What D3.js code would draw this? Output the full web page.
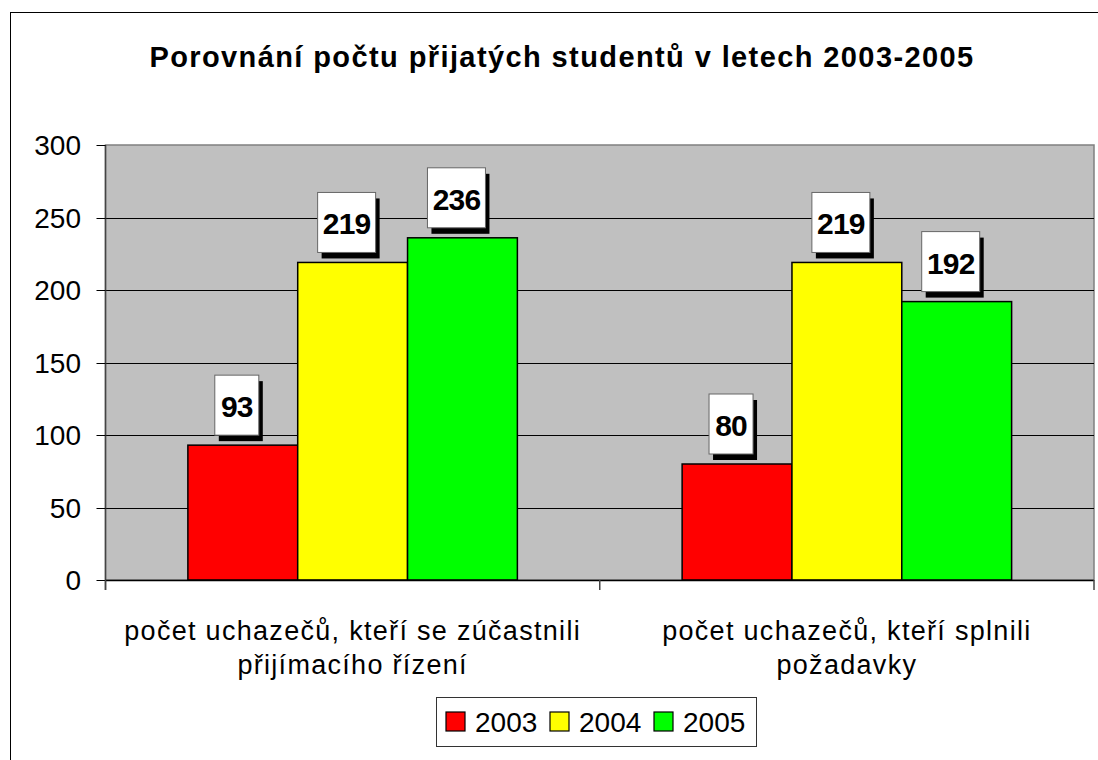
<!DOCTYPE html>
<html>
<head>
<meta charset="utf-8">
<script src="https://cdn.jsdelivr.net/npm/d3@7"></script>
<style>
  body { margin: 0; background: #fff; }
  text { font-family: Arial, "Liberation Sans", sans-serif; }
</style>
</head>
<body>
<div id="root"></div>
<script>
const categories = [
  ["počet uchazečů, kteří se zúčastnili", "přijímacího řízení"],
  ["počet uchazečů, kteří splnili", "požadavky"]
];
const years = ["2003", "2004", "2005"];
const values2003 = [93, 80];
const values2004 = [219, 219];
const values2005 = [236, 192];
const yTicks = [0, 50, 100, 150, 200, 250, 300];
const colors = ["#ff0000", "#ffff00", "#00ff00"];

const series = [values2003, values2004, values2005];

const W = 1098, H = 760;
const plot = {left: 105.5, right: 1094, top: 145, bottom: 580};

const svg = d3.select("#root").append("svg")
    .attr("width", W).attr("height", H);

// outer chart border
svg.append("rect")
    .attr("x", 10.5).attr("y", 12.5)
    .attr("width", W + 20).attr("height", H + 20)
    .attr("fill", "white").attr("stroke", "#000").attr("stroke-width", 1);

const x0 = d3.scaleBand()
    .domain(d3.range(categories.length))
    .range([plot.left, plot.right]);

const x1 = d3.scaleBand()
    .domain(d3.range(years.length))
    .range([0, x0.bandwidth()])
    .paddingOuter(0.75);

const y = d3.scaleLinear().domain([0, 300]).range([plot.bottom, plot.top]);

// plot background
svg.append("rect")
    .attr("x", plot.left).attr("y", plot.top)
    .attr("width", plot.right - plot.left).attr("height", plot.bottom - plot.top)
    .attr("fill", "#c0c0c0").attr("stroke", "#808080").attr("stroke-width", 1.5);

// gridlines
svg.selectAll("line.grid")
    .data(yTicks.filter(d => d > 0 && d < 300))
    .join("line").attr("class", "grid")
    .attr("x1", plot.left).attr("x2", plot.right)
    .attr("y1", d => Math.round(y(d)) + 0.5).attr("y2", d => Math.round(y(d)) + 0.5)
    .attr("stroke", "#000").attr("stroke-width", 1);

// bars
const groups = svg.selectAll("g.cat")
    .data(categories.map((c, i) => i))
    .join("g").attr("class", "cat")
    .attr("transform", i => `translate(${x0(i)},0)`);

groups.selectAll("rect.bar")
    .data(i => series.map((s, k) => ({k, v: s[i]})))
    .join("rect").attr("class", "bar")
    .attr("x", d => x1(d.k))
    .attr("y", d => y(d.v))
    .attr("width", x1.bandwidth())
    .attr("height", d => y(0) - y(d.v))
    .attr("fill", d => colors[d.k])
    .attr("stroke", "#000").attr("stroke-width", 1.5);

// value labels with shadowed boxes
const lab = groups.selectAll("g.lab")
    .data(i => series.map((s, k) => ({k, v: s[i]})))
    .join("g").attr("class", "lab")
    .attr("transform", d => `translate(${x1(d.k) + x1.bandwidth() / 2},${y(d.v) - 8})`);

lab.append("rect")
    .attr("x", d => d.v >= 100 ? -29 - 2 : -22 - 2).attr("y", -56)
    .attr("width", d => d.v >= 100 ? 58 : 44).attr("height", 60)
    .attr("fill", "#000");
lab.append("rect")
    .attr("x", d => d.v >= 100 ? -29 - 6 : -22 - 6).attr("y", -62)
    .attr("width", d => d.v >= 100 ? 58 : 44).attr("height", 60)
    .attr("fill", "#fff").attr("stroke", "#666").attr("stroke-width", 1);
lab.append("text")
    .attr("x", -6).attr("y", -20)
    .attr("text-anchor", "middle")
    .attr("font-size", 30).attr("font-weight", "bold")
    .attr("letter-spacing", -0.8)
    .text(d => d.v);

// y axis
svg.append("line")
    .attr("x1", plot.left).attr("x2", plot.left)
    .attr("y1", plot.top).attr("y2", plot.bottom + 10)
    .attr("stroke", "#444").attr("stroke-width", 1.5);
svg.selectAll("line.ytick")
    .data(yTicks).join("line").attr("class", "ytick")
    .attr("x1", plot.left - 9).attr("x2", plot.left)
    .attr("y1", d => Math.round(y(d)) + 0.5).attr("y2", d => Math.round(y(d)) + 0.5)
    .attr("stroke", "#000");
svg.selectAll("text.ytl")
    .data(yTicks).join("text").attr("class", "ytl")
    .attr("x", 81).attr("y", d => y(d) + 10)
    .attr("text-anchor", "end").attr("font-size", 28)
    .text(d => d);

// x axis
svg.append("line")
    .attr("x1", plot.left).attr("x2", plot.right)
    .attr("y1", plot.bottom + 0.5).attr("y2", plot.bottom + 0.5)
    .attr("stroke", "#000").attr("stroke-width", 1.5);
svg.selectAll("line.xtick")
    .data(d3.range(categories.length + 1)).join("line").attr("class", "xtick")
    .attr("x1", i => plot.left + i * x0.bandwidth()).attr("x2", i => plot.left + i * x0.bandwidth())
    .attr("y1", plot.bottom).attr("y2", plot.bottom + 10)
    .attr("stroke", "#444").attr("stroke-width", 1.5);

svg.selectAll("text.xtl")
    .data(categories.map((c, i) => i)).join("text").attr("class", "xtl")
    .attr("text-anchor", "middle").attr("font-size", 27)
    .attr("letter-spacing", 1.3)
    .each(function (i) {
      d3.select(this).selectAll("tspan")
        .data(categories[i]).join("tspan")
        .attr("x", x0(i) + x0.bandwidth() / 2)
        .attr("y", (d, j) => 640 + j * 34)
        .text(d => d);
    });

// title
svg.append("text")
    .attr("x", 562).attr("y", 67)
    .attr("text-anchor", "middle")
    .attr("font-size", 29).attr("font-weight", "bold")
    .attr("letter-spacing", 1.4)
    .text("Porovnání počtu přijatých studentů v letech 2003-2005");

// legend
const lg = svg.append("g").attr("transform", "translate(436,697)");
lg.append("rect").attr("x", 0.5).attr("y", 0.5).attr("width", 320).attr("height", 49)
    .attr("fill", "#fff").attr("stroke", "#333").attr("stroke-width", 1);
const items = lg.selectAll("g.item").data(years).join("g").attr("class", "item")
    .attr("transform", (d, i) => `translate(${10 + i * 104},15)`);
items.append("rect").attr("width", 19).attr("height", 19)
    .attr("fill", (d, i) => colors[i]).attr("stroke", "#000").attr("stroke-width", 1.2);
items.append("text").attr("x", 29).attr("y", 20).attr("font-size", 28).text(d => d);
</script>
</body>
</html>
